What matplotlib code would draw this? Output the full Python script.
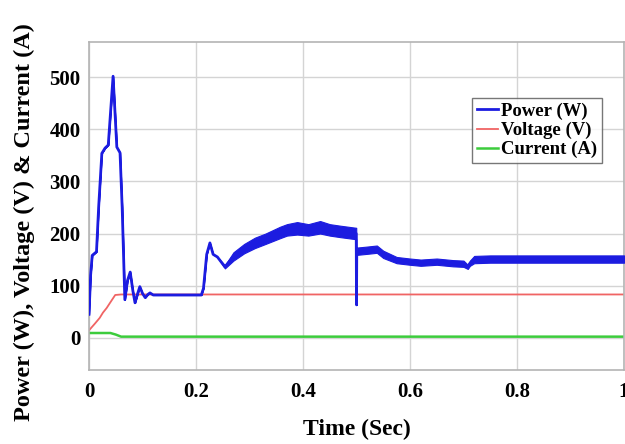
import numpy as np
import matplotlib.pyplot as plt

plt.rcParams['font.family'] = ['Liberation Serif', 'DejaVu Serif']
plt.rcParams['font.weight'] = 'bold'

# Power trace: centre value and half-width of the switching ripple
t_power = [0, 0.003, 0.006, 0.014, 0.018, 0.024, 0.03, 0.036, 0.045, 0.052,
           0.058, 0.062, 0.067, 0.072, 0.077, 0.082, 0.086, 0.091, 0.095, 0.1,
           0.105, 0.11, 0.114, 0.12, 0.21, 0.214, 0.22, 0.226, 0.232, 0.24,
           0.254, 0.27, 0.29, 0.31, 0.33, 0.357, 0.37, 0.389, 0.41, 0.432,
           0.45, 0.47, 0.4995, 0.5, 0.5005, 0.52, 0.538, 0.55, 0.575, 0.6,
           0.62, 0.65, 0.68, 0.7, 0.708, 0.712, 0.72, 0.75, 0.8, 0.9, 1.0]
power = [45, 120, 158, 165, 250, 354, 364, 370, 502, 366,
         355, 250, 73, 110, 126, 90, 67, 85, 98, 85,
         77, 83, 86, 82, 82, 95, 160, 182, 160, 155,
         136, 156, 171, 182, 190, 202, 207, 210, 207, 212,
         207, 204, 200, 63, 166, 168, 170, 160, 149, 146,
         144, 146, 143, 142, 136, 143, 150, 151, 151, 151, 151]
ripple = [0] * 30 + [3, 8, 9, 10, 10, 11, 11, 12, 11, 12,
                     11, 11, 11, 0, 7, 7, 7, 7, 6, 6,
                     6, 6, 6, 6, 4, 5, 7, 7, 7, 7, 7]

t_volt = [0, 0.005, 0.011, 0.02, 0.026, 0.033, 0.04, 0.049, 0.06, 1.0]
voltage = [14, 20, 27, 38, 48, 57, 68, 82, 83, 83]

t_curr = [0, 0.04, 0.05, 0.06, 1.0]
current = [9, 9, 6, 2, 2]

blue = '#1c1ce0'
red = '#f06464'
green = '#3ccc3c'

fig = plt.figure(figsize=(6.25, 4.44), dpi=100)
ax = fig.add_axes([0.1424, 0.1667, 0.856, 0.739])

p = np.array(power, dtype=float)
r = np.array(ripple, dtype=float)
ax.fill_between(t_power, p - r, p + r, color=blue, lw=0.8, zorder=3)
ax.plot(t_power, power, color=blue, lw=2.0, label='Power (W)', zorder=3)
ax.plot(t_volt, voltage, color=red, lw=1.3, label='Voltage (V)', zorder=2)
ax.plot(t_curr, current, color=green, lw=1.8, label='Current (A)', zorder=2)

ax.set_xlim(0, 1)
ax.set_ylim(-62, 568)
ax.set_xticks([0, 0.2, 0.4, 0.6, 0.8, 1])
ax.set_xticklabels(['0', '0.2', '0.4', '0.6', '0.8', '1'])
ax.set_yticks([0, 100, 200, 300, 400, 500])
ax.tick_params(labelsize=15, length=0)
ax.tick_params(axis='x', pad=9)
ax.tick_params(axis='y', pad=6)
ax.grid(True, color='#d4d4d4', lw=1)
ax.set_axisbelow(True)
for s in ax.spines.values():
    s.set_color('#b4b4b4')
    s.set_linewidth(1.2)

ax.set_xlabel('Time (Sec)', fontsize=17, fontweight='bold')
ax.xaxis.set_label_coords(0.5, -0.148)
ax.set_ylabel('Power (W), Voltage (V) & Current (A)', fontsize=17.5,
              fontweight='bold')
ax.yaxis.set_label_coords(-0.1, 0.45)

leg = ax.legend(loc='upper right', bbox_to_anchor=(0.959, 0.829), fontsize=13.5,
                frameon=True, fancybox=False, edgecolor='#555555',
                handlelength=1.1, handletextpad=0.2, borderpad=0.25,
                labelspacing=0.1, borderaxespad=0)
leg.get_frame().set_linewidth(1.0)

fig.savefig('out.png', dpi=100)
